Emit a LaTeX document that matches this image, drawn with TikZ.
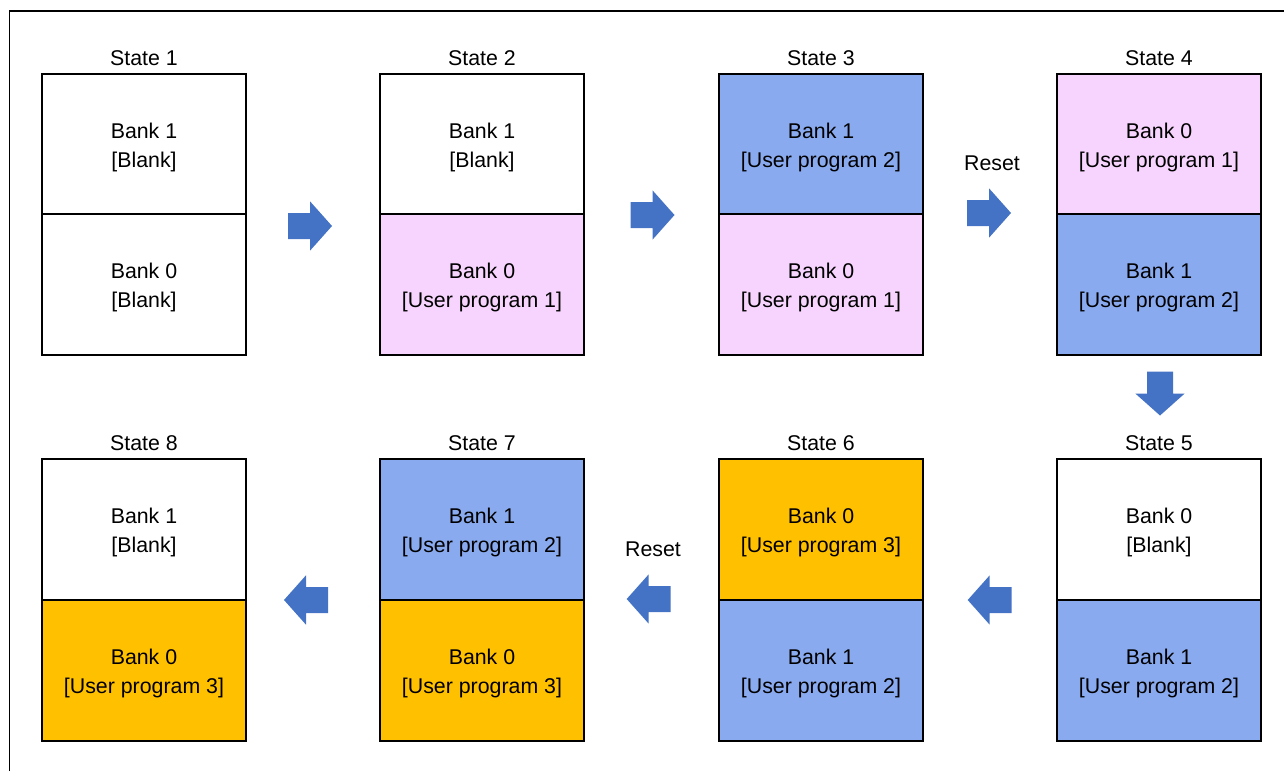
\documentclass[tikz,border=0pt]{standalone}
\usepackage{fontspec}
\setmainfont{Liberation Sans}
\definecolor{pinkc}{HTML}{F7D4FD}
\definecolor{bluec}{HTML}{8AAAF0}
\definecolor{goldc}{HTML}{FFC000}
\definecolor{arrowc}{HTML}{4472C4}
\newcommand{\bk}[2]{\rule{0pt}{16.4pt}#1\\{}#2}
\begin{document}
\begin{tikzpicture}[x=0.75pt,y=-0.75pt,
  bank/.style={draw=black,line width=1.9pt,minimum width=153pt,minimum height=105.75pt,inner sep=0pt,align=center,font=\fontsize{16}{21.75}\selectfont},
  lbl/.style={font=\fontsize{16}{18}\selectfont,inner sep=0pt,anchor=base},
  pics/blockarrow/.style={code={\fill[arrowc] (-22,-13) -- (0,-13) -- (0,-24.7) -- (22,0) -- (0,24.7) -- (0,13) -- (-22,13) -- cycle;}}]
\useasboundingbox (0,0) rectangle (1284,771);
\draw[line width=1.1pt] (9.5,771) -- (9.5,11) -- (1284,11);

% top row
\node[bank,fill=white] (s1t) at (144,144.5) {\bk{Bank 1}{[Blank]}};
\node[bank,fill=white] (s1b) at (144,284.5) {\bk{Bank 0}{[Blank]}};
\node[bank,fill=white] (s2t) at (482,144.5) {\bk{Bank 1}{[Blank]}};
\node[bank,fill=pinkc] (s2b) at (482,284.5) {\bk{Bank 0}{[User program 1]}};
\node[bank,fill=bluec] (s3t) at (821,144.5) {\bk{Bank 1}{[User program 2]}};
\node[bank,fill=pinkc] (s3b) at (821,284.5) {\bk{Bank 0}{[User program 1]}};
\node[bank,fill=pinkc] (s4t) at (1159,144.5) {\bk{Bank 0}{[User program 1]}};
\node[bank,fill=bluec] (s4b) at (1159,284.5) {\bk{Bank 1}{[User program 2]}};
% bottom row
\node[bank,fill=white] (s8t) at (144,529.5) {\bk{Bank 1}{[Blank]}};
\node[bank,fill=goldc] (s8b) at (144,670.5) {\bk{Bank 0}{[User program 3]}};
\node[bank,fill=bluec] (s7t) at (482,529.5) {\bk{Bank 1}{[User program 2]}};
\node[bank,fill=goldc] (s7b) at (482,670.5) {\bk{Bank 0}{[User program 3]}};
\node[bank,fill=goldc] (s6t) at (821,529.5) {\bk{Bank 0}{[User program 3]}};
\node[bank,fill=bluec] (s6b) at (821,670.5) {\bk{Bank 1}{[User program 2]}};
\node[bank,fill=white] (s5t) at (1159,529.5) {\bk{Bank 0}{[Blank]}};
\node[bank,fill=bluec] (s5b) at (1159,670.5) {\bk{Bank 1}{[User program 2]}};

% state labels
\node[lbl] (l1) at (144,65.5) {State 1};
\node[lbl] (l2) at (482,65.5) {State 2};
\node[lbl] (l3) at (821,65.5) {State 3};
\node[lbl] (l4) at (1159,65.5) {State 4};
\node[lbl] (l8) at (144,450.5) {State 8};
\node[lbl] (l7) at (482,450.5) {State 7};
\node[lbl] (l6) at (821,450.5) {State 6};
\node[lbl] (l5) at (1159,450.5) {State 5};

% reset labels
\node[lbl] (r1) at (992,170.5) {Reset};
\node[lbl] (r2) at (653,556) {Reset};

% block arrows
\pic at (310,226) {blockarrow};
\pic at (652.5,215) {blockarrow};
\pic at (989,213) {blockarrow};
\pic[rotate=-90] at (1160,393.5) {blockarrow};
\pic[rotate=180] at (989.7,600) {blockarrow};
\pic[rotate=180] at (648.7,599) {blockarrow};
\pic[rotate=180] at (306,600) {blockarrow};
\end{tikzpicture}
\end{document}
